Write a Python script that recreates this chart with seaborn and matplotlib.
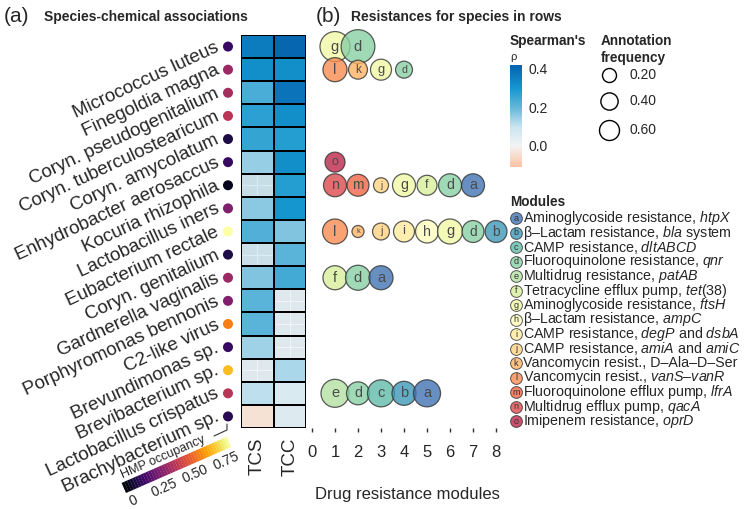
import numpy as np
import pandas as pd
import matplotlib
matplotlib.use("Agg")
import matplotlib.pyplot as plt
import seaborn as sns
from matplotlib.colors import LinearSegmentedColormap, Normalize
from matplotlib.patches import Polygon

# ---- data -----------------------------------------------------------------
species = ["Micrococcus luteus", "Finegoldia magna", "Coryn. pseudogenitalium",
           "Coryn. tuberculostearicum", "Coryn. amycolatum", "Enhydrobacter aerosaccus",
           "Kocuria rhizophila", "Lactobacillus iners", "Eubacterium rectale",
           "Coryn. genitalium", "Gardnerella vaginalis", "Porphyromonas bennonis",
           "C2-like virus", "Brevundimonas sp.", "Brevibacterium sp.",
           "Lactobacillus crispatus", "Brachybacterium sp."]
occupancy = [0.15, 0.36, 0.38, 0.42, 0.10, 0.15, 0.04, 0.30, 0.85, 0.10,
             0.36, 0.30, 0.61, 0.15, 0.72, 0.42, 0.12]
rho_tcs = [0.36, 0.32, 0.23, 0.27, 0.26, 0.15, 0.15, 0.16, 0.22, 0.14,
           0.17, 0.21, 0.21, 0.14, 0.08, 0.11, -0.04]
rho_tcc = [0.41, 0.32, 0.38, 0.32, 0.28, 0.32, 0.28, 0.30, 0.17, 0.21,
           0.24, 0.08, 0.08, 0.08, 0.13, 0.06, 0.05]
sig_tcs = [1, 1, 1, 1, 1, 1, 0, 1, 1, 0, 1, 1, 1, 1, 0, 1, 1]
sig_tcc = [1, 1, 1, 1, 1, 1, 1, 1, 1, 1, 1, 0, 0, 0, 1, 1, 1]

modules = list("abcdefghijklmno")
module_names = [
    "Aminoglycoside resistance, $\\mathit{htpX}$",
    "β–Lactam resistance, $\\mathit{bla}$ system",
    "CAMP resistance, $\\mathit{dltABCD}$",
    "Fluoroquinolone resistance, $\\mathit{qnr}$",
    "Multidrug resistance, $\\mathit{patAB}$",
    "Tetracycline efflux pump, $\\mathit{tet(38)}$",
    "Aminoglycoside resistance, $\\mathit{ftsH}$",
    "β–Lactam resistance, $\\mathit{ampC}$",
    "CAMP resistance, $\\mathit{degP}$ and $\\mathit{dsbA}$",
    "CAMP resistance, $\\mathit{amiA}$ and $\\mathit{amiC}$",
    "Vancomycin resist., D–Ala–D–Ser",
    "Vancomycin resist., $\\mathit{vanS}$–$\\mathit{vanR}$",
    "Fluoroquinolone efflux pump, $\\mathit{lfrA}$",
    "Multidrug efflux pump, $\\mathit{qacA}$",
    "Imipenem resistance, $\\mathit{oprD}$",
]

# bubbles: species row, position, module, annotation frequency
bub_row = [0, 0,
           1, 1, 1, 1,
           5,
           6, 6, 6, 6, 6, 6, 6,
           8, 8, 8, 8, 8, 8, 8, 8,
           10, 10, 10,
           15, 15, 15, 15, 15]
bub_pos = [1, 2,
           1, 2, 3, 4,
           1,
           1, 2, 3, 4, 5, 6, 7,
           1, 2, 3, 4, 5, 6, 7, 8,
           1, 2, 3,
           1, 2, 3, 4, 5]
bub_mod = ["g", "d",
           "l", "k", "g", "d",
           "o",
           "n", "m", "j", "g", "f", "d", "a",
           "l", "k", "j", "i", "h", "g", "d", "b",
           "f", "d", "a",
           "e", "d", "c", "b", "a"]
bub_freq = [1.58, 2.05,
            0.95, 0.52, 0.68, 0.38,
            0.60,
            0.85, 0.76, 0.26, 0.85, 0.60, 0.85, 0.85,
            1.04, 0.10, 0.38, 0.68, 0.85, 1.04, 0.76, 0.76,
            0.95, 1.04, 0.95,
            1.35, 0.85, 1.25, 0.95, 1.25]
size_legend = [0.20, 0.40, 0.60]

# ---- style ----------------------------------------------------------------
sns.set_theme(style="white")
plt.rcParams["font.family"] = ["Liberation Sans", "DejaVu Sans"]
plt.rcParams["mathtext.fontset"] = "custom"
plt.rcParams["mathtext.rm"] = "Liberation Sans"
plt.rcParams["mathtext.it"] = "Liberation Sans:italic"

W, H = 750, 509
fig = plt.figure(figsize=(7.5, 5.09), dpi=100)


def box(left, top, right, bottom):
    """pixel box -> figure fraction rect"""
    return [left / W, 1 - bottom / H, (right - left) / W, (bottom - top) / H]


rho_cmap = LinearSegmentedColormap.from_list("rho", [
    (0.0, "#fbc2a4"), (0.11 / 0.53, "#f3f3f3"), (0.21 / 0.53, "#c8e4f0"),
    (0.31 / 0.53, "#62b7da"), (0.41 / 0.53, "#1597cf"), (1.0, "#0562ae")])
vmin, vmax = -0.11, 0.42

pal = dict(zip(modules, sns.color_palette("Spectral_r", len(modules))))

# ---- (a) heatmap ----------------------------------------------------------
ax_h = fig.add_axes(box(241, 35, 306, 428))
ax_h.set_facecolor("#e9e9e9")
rho = pd.DataFrame({"TCS": rho_tcs, "TCC": rho_tcc}, index=species)
sig = pd.DataFrame({"TCS": sig_tcs, "TCC": sig_tcc}, index=species).astype(bool)

ax_h.hlines(np.arange(len(species)) + 0.5, 0, 2, color="white", lw=0.8, zorder=0.5)
ax_h.vlines([0.5, 1.5], 0, len(species), color="white", lw=0.8, zorder=0.5)
sns.heatmap(rho, mask=sig, cmap=rho_cmap, vmin=vmin, vmax=vmax, alpha=0.4,
            cbar=False, ax=ax_h)
sns.heatmap(rho, mask=~sig, cmap=rho_cmap, vmin=vmin, vmax=vmax,
            linewidths=1.2, linecolor="black", cbar=False, ax=ax_h)

# occupancy dots next to the species names
sns.scatterplot(x=[-0.4] * len(species), y=np.arange(len(species)) + 0.5,
                hue=occupancy, palette="inferno", hue_norm=(0, 0.85), s=52,
                linewidth=0, legend=False, clip_on=False, ax=ax_h)
ax_h.set_xlim(0, 2)
ax_h.set_ylim(len(species), 0)
ax_h.set_xticks([0.5, 1.5])
ax_h.set_xticklabels(["TCS", "TCC"], rotation=90, fontsize=13.5)
ax_h.set_yticks(np.arange(len(species)) + 0.5)
ax_h.set_yticklabels(species, rotation=25, ha="right", va="center",
                     rotation_mode="anchor", fontsize=13.5)
ax_h.tick_params(axis="y", length=1.5, width=1, pad=15, color="#333333")
ax_h.tick_params(axis="x", length=4, width=1.2, pad=3, color="#222222")
ax_h.set_xlabel("")
ax_h.set_ylabel("")
for sp in ax_h.spines.values():
    sp.set_visible(False)

# ---- (b) bubbles ----------------------------------------------------------
ax_b = fig.add_axes(box(306, 35, 508, 428))
bub = pd.DataFrame({"row": bub_row, "pos": bub_pos, "module": bub_mod,
                    "freq": bub_freq})
bub["y"] = bub["row"] + 0.5


def area(f):
    # marker area in points^2 (linear in frequency)
    return (94 + 510 * f) * 0.5184


sns.scatterplot(data=bub, x="pos", y="y", hue="module", palette=pal,
                size="freq", sizes=(area(0), area(2.1)), size_norm=(0, 2.1),
                alpha=0.8, edgecolor="#333333", linewidth=0.9, legend=False,
                clip_on=False, zorder=3, ax=ax_b)
for _, r in bub.iterrows():
    d_pt = np.sqrt(area(r["freq"]))
    ax_b.text(r["pos"], r["y"], r["module"], ha="center", va="center",
              fontsize=min(10.5, 0.62 * d_pt), color="#4a4a4a", zorder=4)
ax_b.set_xlim(-0.26, 8.52)
ax_b.set_ylim(len(species), 0)
ax_b.set_xticks(range(9))
ax_b.set_yticks([])
ax_b.tick_params(axis="x", length=3, width=1, pad=9, labelsize=12,
                 color="#333333", bottom=True)
ax_b.set_xlabel("Drug resistance modules", fontsize=12, labelpad=20)
ax_b.set_ylabel("")
for sp in ax_b.spines.values():
    sp.set_visible(False)

# ---- titles ---------------------------------------------------------------
fig.text(4 / W, 1 - 17 / H, "(a)", fontsize=15, va="center")
fig.text(44 / W, 1 - 17 / H, "Species-chemical associations", fontsize=10,
         fontweight="bold", va="center")
fig.text(316 / W, 1 - 17 / H, "(b)", fontsize=15, va="center")
fig.text(351 / W, 1 - 17 / H, "Resistances for species in rows", fontsize=10,
         fontweight="bold", va="center")

# ---- Spearman colorbar ----------------------------------------------------
ax_c = fig.add_axes(box(510, 65, 522, 167))
cb = fig.colorbar(plt.cm.ScalarMappable(norm=Normalize(vmin, vmax), cmap=rho_cmap),
                  cax=ax_c)
cb.set_ticks([0.0, 0.2, 0.4])
cb.set_ticklabels(["0.0", "0.2", "0.4"])
cb.outline.set_visible(False)
ax_c.tick_params(length=0, pad=5, labelsize=10)

# ---- overlay for hand-placed legends --------------------------------------
ov = fig.add_axes([0, 0, 1, 1], facecolor="none")
ov.set_xlim(0, W)
ov.set_ylim(H, 0)
ov.axis("off")

ov.text(510, 41, "Spearman's", fontsize=9.8, fontweight="bold", va="center")
ov.text(510, 57, "ρ", fontsize=8, va="center")

ov.text(601, 41, "Annotation", fontsize=9.8, fontweight="bold", va="center")
ov.text(601, 58, "frequency", fontsize=9.8, fontweight="bold", va="center")
for f, yy in zip(size_legend, [75, 101, 130]):
    ov.scatter([609], [yy], s=area(f), facecolor="white", edgecolor="black",
               linewidth=1)
    ov.text(630, yy, f"{f:.2f}", fontsize=10, va="center")

ov.text(510, 202, "Modules", fontsize=9.8, fontweight="bold", va="center")
for i, (m, name) in enumerate(zip(modules, module_names)):
    yy = 218 + 14.5 * i
    ov.scatter([516], [yy], s=72, color=pal[m], alpha=0.8, edgecolor="#333333",
               linewidth=0.7)
    ov.text(516, yy + 0.3, m, fontsize=6.5, ha="center", va="center",
            color="#333333")
    ov.text(523, yy, name, fontsize=10.3, va="center")

# ---- HMP occupancy colorbar (rotated) -------------------------------------
occ_cmap = plt.get_cmap("inferno")
occ_max = 0.85
p0 = np.array([126.0, 493.0])
p1 = np.array([231.0, 447.0])
u = p1 - p0
theta = np.degrees(np.arctan2(-u[1], u[0]))
nrm = np.array([-np.sin(np.radians(theta)), -np.cos(np.radians(theta))])
thick = 11
nseg = 40
for k in range(nseg):
    a0 = p0 + u * k / nseg
    a1 = p0 + u * (k + 1.05) / nseg
    poly = Polygon([a0, a1, a1 + nrm * thick, a0 + nrm * thick],
                   closed=True, color=occ_cmap((k + 0.5) / nseg), lw=0)
    ov.add_patch(poly)
for v, lab in zip([0, 0.25, 0.5, 0.75], ["0", "0.25", "0.50", "0.75"]):
    pt = p0 + u * v / occ_max - nrm * 9
    ov.text(pt[0] + 4, pt[1], lab, fontsize=10, rotation=theta,
            ha="center", va="center", rotation_mode="anchor")
tp = p0 + u * 0.42 + nrm * (thick + 7)
ov.text(tp[0], tp[1], "HMP occupancy", fontsize=9, rotation=theta,
        ha="center", va="center", rotation_mode="anchor")
ov.plot([214, 227, 227], [436, 430, 424], color="#333333", lw=0.8)

fig.savefig("out.png", dpi=100)
